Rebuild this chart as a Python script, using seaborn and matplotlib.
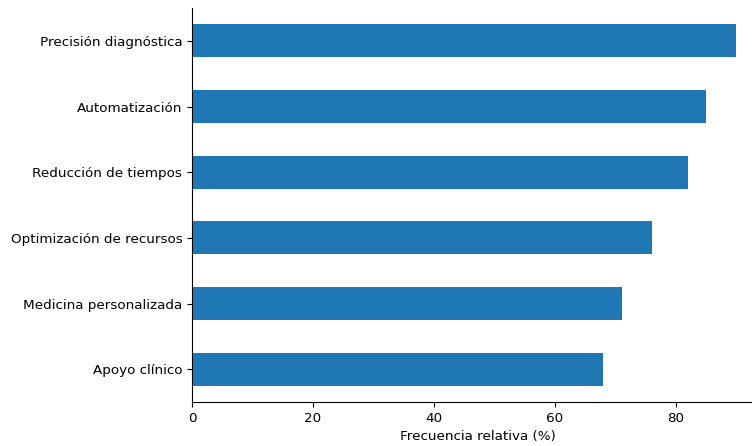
import matplotlib
matplotlib.use("Agg")
import matplotlib.pyplot as plt
import seaborn as sns
import pandas as pd

categories = ["Precisión diagnóstica", "Automatización", "Reducción de tiempos",
              "Optimización de recursos", "Medicina personalizada", "Apoyo clínico"]
values = [90, 85, 82, 76, 71, 68]
xticks = [0, 20, 40, 60, 80]

df = pd.DataFrame({"categoria": categories, "frecuencia": values})

plt.rcParams["font.size"] = 9.7

fig = plt.figure(figsize=(7.52, 4.46), dpi=100)
ax = fig.add_axes([192/752, 44/446, 571.7/752, 394/446])
sns.barplot(data=df, y="categoria", x="frecuencia", order=categories,
            color="#1f77b4", saturation=1, width=0.5, ax=ax)
ax.set_xlim(0, 94.5)
ax.set_ylim(5.5, -0.5)
ax.set_xticks(xticks)
ax.set_xlabel("Frecuencia relativa (%)")
ax.set_ylabel("")
for s in ["top", "right"]:
    ax.spines[s].set_visible(False)
fig.savefig("out.png", dpi=100)
